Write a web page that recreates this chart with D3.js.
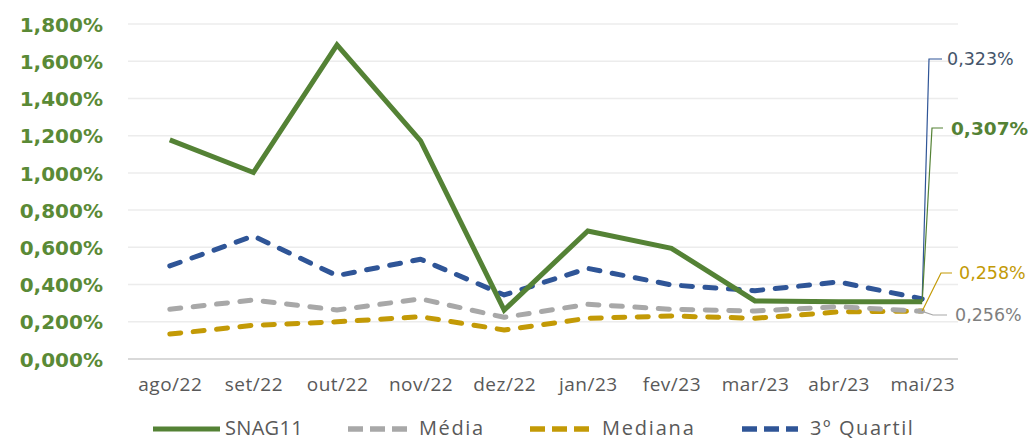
<!DOCTYPE html>
<html>
<head>
<meta charset="utf-8">
<script src="https://cdn.jsdelivr.net/npm/d3@7"></script>
<style>
  html, body { margin: 0; padding: 0; background: #ffffff; }
  svg { display: block; }
</style>
</head>
<body>
<svg id="chart" width="1034" height="441"></svg>
<script>
const categories = ["ago/22","set/22","out/22","nov/22","dez/22","jan/23","fev/23","mar/23","abr/23","mai/23"];
const snag11   = [1.177, 1.002, 1.688, 1.172, 0.263, 0.688, 0.595, 0.312, 0.307, 0.307];
const media    = [0.267, 0.317, 0.263, 0.323, 0.224, 0.294, 0.267, 0.258, 0.281, 0.256];
const mediana  = [0.134, 0.181, 0.200, 0.227, 0.156, 0.219, 0.231, 0.219, 0.253, 0.258];
const quartil3 = [0.500, 0.661, 0.448, 0.536, 0.344, 0.487, 0.398, 0.367, 0.414, 0.323];
const yTicks   = [0, 0.2, 0.4, 0.6, 0.8, 1.0, 1.2, 1.4, 1.6, 1.8];
const seriesNames = ["SNAG11", "Média", "Mediana", "3º Quartil"];
const endLabels = ["0,323%", "0,307%", "0,258%", "0,256%"];

const svg = d3.select("#chart");
const fontFamily = "'Open Sans', 'DejaVu Sans', sans-serif";

const x = d3.scalePoint().domain(categories).range([128, 964]).padding(0.5);
const y = d3.scaleLinear().domain([0, 1.8]).range([359, 24]);

const fmt = v => d3.format(".3f")(v).replace(".", ",") + "%";

// gridlines
svg.append("g").selectAll("line").data(yTicks.filter(d => d > 0)).join("line")
  .attr("x1", 128).attr("x2", 958)
  .attr("y1", d => y(d)).attr("y2", d => y(d))
  .attr("stroke", "#ececec").attr("stroke-width", 1.5);

// baseline
svg.append("line").attr("x1", 128).attr("x2", 958)
  .attr("y1", y(0)).attr("y2", y(0))
  .attr("stroke", "#d9d9d9").attr("stroke-width", 2);

// y axis labels
const yAxis = d3.axisLeft(y).tickValues(yTicks).tickFormat(fmt).tickSize(0).tickPadding(0);
const gy = svg.append("g").attr("transform", "translate(103,0)").call(yAxis);
gy.select(".domain").remove();
gy.selectAll("text")
  .attr("font-family", "'DejaVu Sans', sans-serif")
  .attr("font-weight", "bold").attr("font-size", 20)
  .attr("fill", "#5a8a36").attr("dy", "0.36em");

// x axis labels
const xAxis = d3.axisBottom(x).tickSize(0).tickPadding(0);
const gx = svg.append("g").attr("transform", "translate(0,377)").call(xAxis);
gx.select(".domain").remove();
gx.selectAll("text")
  .attr("font-family", fontFamily).attr("font-size", 19)
  .attr("letter-spacing", 0.5)
  .attr("fill", "#595959").attr("dy", "0.71em");

const line = d3.line().x((d, i) => x(categories[i])).y(d => y(d));

const styles = [
  { data: quartil3, color: "#2f5597", dash: "11 12.5" },
  { data: mediana,  color: "#c39a06", dash: "11 12.5" },
  { data: media,    color: "#a8a8a8", dash: "11 12.5" },
];
styles.forEach(s => {
  svg.append("path").datum(s.data).attr("d", line)
    .attr("fill", "none").attr("stroke", s.color).attr("stroke-width", 5)
    .attr("stroke-linecap", "round").attr("stroke-linejoin", "round")
    .attr("stroke-dasharray", s.dash);
});
svg.append("path").datum(snag11).attr("d", line)
  .attr("fill", "none").attr("stroke", "#548235").attr("stroke-width", 5)
  .attr("stroke-linejoin", "miter");

// end labels with leader lines
const lastX = x(categories[categories.length - 1]);
const leaders = [
  { v: quartil3, color: "#2f5597", textColor: "#44546a", elbow: [929, 59], end: 942, text: endLabels[0], weight: "normal", tx: 947 },
  { v: snag11,   color: "#548235", textColor: "#548235", elbow: [932, 128], end: 943, text: endLabels[1], weight: "bold", tx: 951 },
  { v: mediana,  color: "#c39a06", textColor: "#c39a06", elbow: [941, 273], end: 952, text: endLabels[2], weight: "normal", tx: 959 },
  { v: media,    color: "#a8a8a8", textColor: "#7f7f7f", elbow: [933, 315], end: 947, text: endLabels[3], weight: "normal", tx: 955 },
];
leaders.forEach(l => {
  const px = lastX, py = y(l.v[l.v.length - 1]);
  svg.append("polyline")
    .attr("points", [[px, py], l.elbow, [l.end, l.elbow[1]]].map(p => p.join(",")).join(" "))
    .attr("fill", "none").attr("stroke", l.color).attr("stroke-width", 1.2);
  svg.append("text").attr("x", l.tx).attr("y", l.elbow[1]).attr("dy", "0.36em")
    .attr("font-family", "'DejaVu Sans', sans-serif")
    .attr("font-size", l.weight === "bold" ? 18.5 : 17.5)
    .attr("font-weight", l.weight).attr("fill", l.textColor).text(l.text);
});

// legend
const legendItems = [
  { name: seriesNames[0], color: "#548235", dash: null, x1: 153, x2: 220, tx: 225, ls: 0.3 },
  { name: seriesNames[1], color: "#a8a8a8", dash: "15 7", x1: 348, x2: 408, tx: 419, ls: 1.6 },
  { name: seriesNames[2], color: "#c39a06", dash: "15 7", x1: 530, x2: 592, tx: 602, ls: 1.8 },
  { name: seriesNames[3], color: "#2f5597", dash: "15 7", x1: 742, x2: 798, tx: 810, ls: 1.6 },
];
const lg = svg.append("g");
legendItems.forEach(it => {
  const ln = lg.append("line").attr("x1", it.x1).attr("x2", it.x2).attr("y1", 429).attr("y2", 429)
    .attr("stroke", it.color).attr("stroke-width", it.dash ? 5.5 : 5);
  if (it.dash) ln.attr("stroke-dasharray", it.dash);
  lg.append("text").attr("x", it.tx).attr("y", 428).attr("dy", "0.35em")
    .attr("font-family", fontFamily).attr("font-size", 20)
    .attr("letter-spacing", it.ls)
    .attr("fill", "#595959").text(it.name);
});
</script>
</body>
</html>
